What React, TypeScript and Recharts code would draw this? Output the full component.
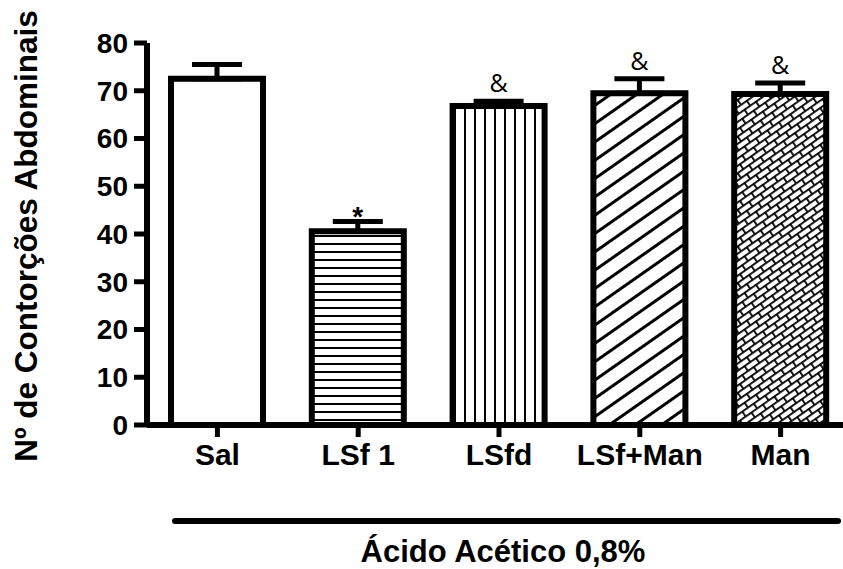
import React from "react";
import {
  BarChart,
  Bar,
  XAxis,
  YAxis,
  ErrorBar,
  Cell,
  LabelList,
  Label,
} from "recharts";

// groups and values (mean + upper SEM)
const groups = ["Sal", "LSf 1", "LSfd", "LSf+Man", "Man"];
const means = [72.5, 40.6, 66.8, 69.5, 69.3];
const sems = [3.0, 2.0, 1.0, 3.0, 2.3];
const marks = ["", "*", "&", "&", "&"];
const yTicks = [0, 10, 20, 30, 40, 50, 60, 70, 80];

const yTitle = "Nº de Contorções Abdominais";
const xTitle = "Ácido Acético 0,8%";

const fills = ["#ffffff", "url(#hLines)", "url(#vLines)", "url(#diag)", "url(#brick)"];

const data = groups.map((g, i) => ({
  name: g,
  mean: means[i],
  err: [0, sems[i]],
  mark: marks[i],
}));

const font = "'Liberation Sans', Arial, sans-serif";

const renderYLabel = (props: any) => {
  const vb = props.viewBox || {};
  const cx = 37;
  const cy = vb.y + vb.height / 2 + 2;
  return (
    <text
      x={cx}
      y={cy}
      transform={`rotate(-90, ${cx}, ${cy})`}
      textAnchor="middle"
      fontFamily={font}
      fontWeight={700}
      fontSize={31.5}
      fill="#000"
    >
      {yTitle}
    </text>
  );
};

const renderXLabel = (props: any) => {
  const vb = props.viewBox || {};
  const lineY = vb.y + 96;
  return (
    <g>
      <line
        x1={vb.x + 28}
        x2={vb.x + 691}
        y1={lineY}
        y2={lineY}
        stroke="#000"
        strokeWidth={6}
        strokeLinecap="round"
      />
      <text
        x={vb.x + 356}
        y={vb.y + 137}
        textAnchor="middle"
        fontFamily={font}
        fontWeight={700}
        fontSize={31}
        fill="#000"
      >
        {xTitle}
      </text>
    </g>
  );
};

const renderMark = (props: any) => {
  const { x, y, width, height, value, index } = props;
  if (!value) return null;
  const perUnit = height / means[index];
  const top = y - sems[index] * perUnit;
  const cx = x + width / 2;
  if (value === "*") {
    return (
      <text x={cx} y={top + 4} textAnchor="middle" fontFamily={font} fontWeight={700} fontSize={28} fill="#000">
        {value}
      </text>
    );
  }
  return (
    <text x={cx} y={top - 9} textAnchor="middle" fontFamily="'Open Sans', sans-serif" fontSize={25} fill="#000">
      {value}
    </text>
  );
};

export default function App() {
  return (
    <div
      style={{
        position: "absolute",
        left: 0,
        top: 0,
        width: 843,
        height: 569,
        overflow: "hidden",
        background: "#fff",
      }}
    >
      <BarChart
        width={851}
        height={569}
        data={data}
        margin={{ top: 43, right: 0, bottom: 0, left: 0 }}
      >
        <defs>
          <pattern id="hLines" patternUnits="userSpaceOnUse" width="8" height="8">
            <rect width="8" height="8" fill="#fff" />
            <rect y="3" width="8" height="2" fill="#000" />
          </pattern>
          <pattern id="vLines" patternUnits="userSpaceOnUse" width="10" height="10">
            <rect width="10" height="10" fill="#fff" />
            <rect x="4" width="2" height="10" fill="#000" />
          </pattern>
          <pattern
            id="diag"
            patternUnits="userSpaceOnUse"
            width="15"
            height="15"
            patternTransform="rotate(-35)"
          >
            <rect width="15" height="15" fill="#fff" />
            <rect y="6" width="15" height="3" fill="#000" />
          </pattern>
          <pattern
            id="brick"
            patternUnits="userSpaceOnUse"
            width="14"
            height="12"
            patternTransform="rotate(-35)"
          >
            <rect width="14" height="12" fill="#fff" />
            <rect y="0" width="14" height="1.8" fill="#000" />
            <rect y="6" width="14" height="1.8" fill="#000" />
            <rect x="0" y="0" width="1.8" height="6" fill="#000" />
            <rect x="7" y="6" width="1.8" height="6" fill="#000" />
          </pattern>
        </defs>
        <XAxis
          dataKey="name"
          height={144}
          interval={0}
          axisLine={{ stroke: "#000", strokeWidth: 6 }}
          tickLine={{ stroke: "#000", strokeWidth: 5 }}
          tickSize={12}
          tickMargin={7}
          tick={{ fill: "#000", fontSize: 30, fontWeight: 700, fontFamily: font }}
        >
          <Label content={renderXLabel} />
        </XAxis>
        <YAxis
          width={147}
          domain={[0, 80]}
          ticks={yTicks}
          interval={0}
          allowDataOverflow
          axisLine={{ stroke: "#000", strokeWidth: 6 }}
          tickLine={{ stroke: "#000", strokeWidth: 5 }}
          tickSize={13}
          tickMargin={6}
          tick={{ fill: "#000", fontSize: 28, fontWeight: 700, fontFamily: font }}
        >
          <Label content={renderYLabel} />
        </YAxis>
        <Bar
          dataKey="mean"
          barSize={92}
          stroke="#000"
          strokeWidth={6}
          isAnimationActive={false}
        >
          {data.map((d, i) => (
            <Cell key={d.name} fill={fills[i]} />
          ))}
          <ErrorBar
            dataKey="err"
            direction="y"
            width={25}
            stroke="#000"
            strokeWidth={5}
            isAnimationActive={false}
          />
          <LabelList dataKey="mark" content={renderMark} />
        </Bar>
      </BarChart>
    </div>
  );
}
